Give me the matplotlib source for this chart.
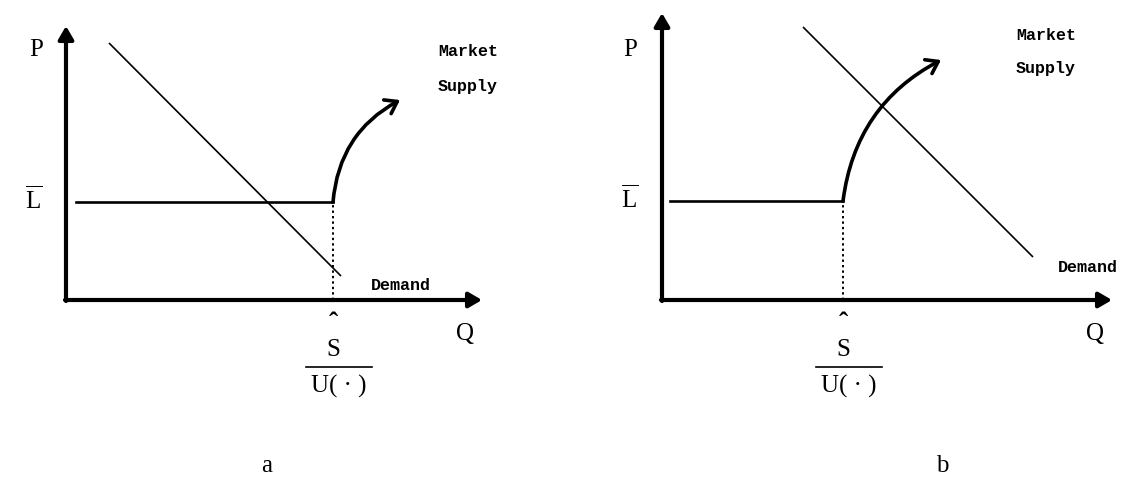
import matplotlib.pyplot as plt
from matplotlib.patches import FancyArrowPatch

plt.rcParams['mathtext.fontset'] = 'custom'
plt.rcParams['mathtext.rm'] = 'Liberation Serif'

SERIF = 'Liberation Serif'
MONO = 'Liberation Mono'

# panel a (units: Q right, P up, origin at the axes corner)
a_q_max, a_p_max = 416, 274
a_demand_q = [43, 275]
a_demand_p = [257, 24]
a_lbar = 98
a_lbar_q = [10, 267]
a_shat = 267
a_supply_end = (334, 200)
a_supply_rad = -0.27

# panel b
b_q_max, b_p_max = 450, 287
b_demand_q = [141, 371]
b_demand_p = [273, 43]
b_lbar = 99
b_lbar_q = [8, 181]
b_shat = 181
b_supply_end = (279, 240)
b_supply_rad = -0.26


def draw_panel(ax, q_max, p_max, dem_q, dem_p, lbar, lbar_q, shat, sup_end, rad,
               p_xy, market_xy, demand_xy, frac_dx, letter, letter_x):
  # axes with arrows
  ax.annotate('', xy=(0, p_max), xytext=(0, -1),
              arrowprops=dict(arrowstyle='-|>,head_length=0.6,head_width=0.35',
                              lw=3, color='black', mutation_scale=13,
                              shrinkA=0, shrinkB=0))
  ax.annotate('', xy=(q_max, 0), xytext=(-1, 0),
              arrowprops=dict(arrowstyle='-|>,head_length=0.6,head_width=0.35',
                              lw=3, color='black', mutation_scale=13,
                              shrinkA=0, shrinkB=0))
  # demand
  ax.plot(dem_q, dem_p, color='black', lw=1.2, solid_capstyle='butt')
  # flat part of supply at L-bar
  ax.plot(lbar_q, [lbar, lbar], color='black', lw=1.9)
  # dotted drop line
  ax.plot([shat, shat], [0, lbar], color='black', lw=1.4, ls=(0, (1.2, 1.6)))
  # rising part of supply
  arr = FancyArrowPatch((shat, lbar), sup_end,
                        connectionstyle='arc3,rad={}'.format(rad),
                        arrowstyle='->,head_length=0.5,head_width=0.35',
                        mutation_scale=16, lw=2.6, color='black',
                        shrinkA=0, shrinkB=0)
  ax.add_patch(arr)

  # labels
  ax.text(p_xy[0], p_xy[1], 'P', fontsize=18, family=SERIF, ha='center', va='center')
  ax.text(-32, lbar + 2, r'$\overline{\mathrm{L}}$', fontsize=18, ha='center', va='center')
  ax.text(market_xy[0], market_xy[1], 'Market', fontsize=12, family=MONO,
          weight='bold', ha='center', va='center')
  ax.text(market_xy[0], market_xy[1] - 34, 'Supply', fontsize=12, family=MONO,
          weight='bold', ha='center', va='center')
  ax.text(demand_xy[0], demand_xy[1], 'Demand', fontsize=12, family=MONO,
          weight='bold', ha='center', va='center')
  ax.text(q_max - 17, -34, 'Q', fontsize=18, family=SERIF, ha='center', va='center')
  ax.text(shat, -25, 'ˆ', fontsize=20, family=SERIF, weight='bold', ha='center', va='center')
  ax.text(shat, -50, 'S', fontsize=18, family=SERIF, ha='center', va='center')
  ax.plot([shat + frac_dx - 33, shat + frac_dx + 33], [-67, -67], color='black', lw=1.2)
  ax.text(shat + frac_dx, -86, 'U( · )', fontsize=18, family=SERIF, ha='center', va='center')
  ax.text(letter_x, -166, letter, fontsize=18, family=SERIF, ha='center', va='center')


fig = plt.figure(figsize=(11.3, 4.78), dpi=100)

ax_a = fig.add_axes([0, 0, 0.5, 1])
ax_a.set_xlim(-66, 499)
ax_a.set_ylim(-178, 300)
ax_a.axis('off')
draw_panel(ax_a, a_q_max, a_p_max, a_demand_q, a_demand_p, a_lbar, a_lbar_q,
           a_shat, a_supply_end, a_supply_rad, (-30, 250), (402, 248), (335, 15),
           6, 'a', 201)

ax_b = fig.add_axes([0.5, 0, 0.5, 1])
ax_b.set_xlim(-97, 468)
ax_b.set_ylim(-178, 300)
ax_b.axis('off')
draw_panel(ax_b, b_q_max, b_p_max, b_demand_q, b_demand_p, b_lbar, b_lbar_q,
           b_shat, b_supply_end, b_supply_rad, (-32, 250), (384, 265), (426, 33),
           6, 'b', 280)

fig.savefig('out.png', dpi=100)
